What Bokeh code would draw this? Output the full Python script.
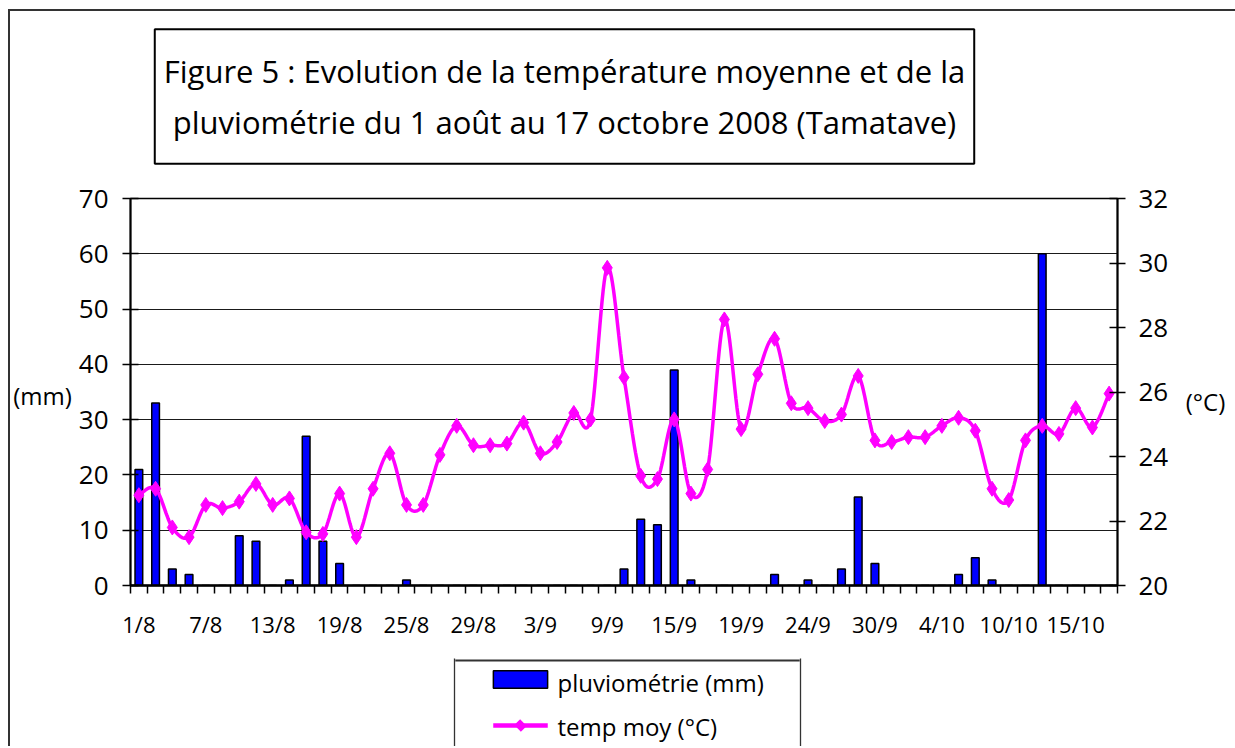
import numpy as np
from bokeh.plotting import figure
from bokeh.models import (Range1d, LinearAxis, FixedTicker, Label, ColumnDataSource)
from bokeh.embed import file_html
from bokeh.resources import INLINE

# ---------------- data ----------------
day_index = list(range(59))
tick_labels = ["1/8", "7/8", "13/8", "19/8", "25/8", "29/8", "3/9", "9/9",
               "15/9", "19/9", "24/9", "30/9", "4/10", "10/10", "15/10"]
rain_mm = [21, 33, 3, 2, 0, 0, 9, 8, 0, 1,
           27, 8, 4, 0, 0, 0, 1, 0, 0, 0,
           0, 0, 0, 0, 0, 0, 0, 0, 0, 3,
           12, 11, 39, 1, 0, 0, 0, 0, 2, 0,
           1, 0, 3, 16, 4, 0, 0, 0, 0, 2,
           5, 1, 0, 0, 60, 0, 0, 0, 0]
temp_c = [22.8, 23.0, 21.8, 21.5, 22.5, 22.4, 22.6, 23.15, 22.5, 22.7,
          21.65, 21.6, 22.85, 21.5, 23.0, 24.1, 22.5, 22.5, 24.05, 24.95,
          24.35, 24.35, 24.4, 25.05, 24.1, 24.45, 25.35, 25.15, 29.85, 26.45,
          23.4, 23.3, 25.15, 22.85, 23.6, 28.25, 24.85, 26.55, 27.65, 25.65,
          25.5, 25.1, 25.3, 26.5, 24.5, 24.45, 24.6, 24.6, 24.95, 25.2,
          24.8, 23.0, 22.65, 24.5, 24.95, 24.7, 25.5, 24.9, 25.95]
series_names = ["pluviométrie (mm)", "temp moy (°C)"]

FONT = "Open Sans"
BAR_COLOR = "#0000FF"
LINE_COLOR = "#FF00FF"
OX, OY = 10, 11   # canvas origin on the page (margin + border)

# smoothed curve through the data points (Excel-style smoothed line)
def smooth(xs, ys, steps=16):
    P = np.column_stack([xs, ys]).astype(float)
    n = len(P)
    out = [P[0]]
    t = np.linspace(0, 1, steps + 1)[1:, None]
    for i in range(n - 1):
        p0 = P[i - 1] if i > 0 else P[i]
        p1, p2 = P[i], P[i + 1]
        p3 = P[i + 2] if i + 2 < n else P[i + 1]
        b1 = p1 + (p2 - p0) / 6.0
        b2 = p2 - (p3 - p1) / 6.0
        seg = ((1 - t) ** 3) * p1 + 3 * ((1 - t) ** 2) * t * b1 + 3 * (1 - t) * t ** 2 * b2 + t ** 3 * p2
        out.extend(seg)
    out = np.array(out)
    return out[:, 0], out[:, 1]

sx, sy = smooth(day_index, temp_c)

p = figure(frame_width=987, frame_height=387,
           min_border_left=130 - OX, min_border_right=118,
           min_border_top=198 - OY, min_border_bottom=161,
           x_range=Range1d(-0.5, len(day_index) - 0.5), y_range=Range1d(0, 70),
           output_backend="svg", toolbar_location=None, tools="")
p.styles = {"margin-left": "8px", "margin-top": "9px",
            "border-left": "2px solid #333333", "border-top": "2px solid #333333"}
p.extra_y_ranges = {"temp": Range1d(20, 32)}
p.outline_line_color = "black"
p.outline_line_width = 1.5
p.background_fill_color = "white"
p.border_fill_color = "white"

# grid
p.xgrid.visible = False
p.ygrid.grid_line_color = "#1a1a1a"
p.ygrid.grid_line_width = 1

# left axis
ly = p.yaxis[0]
ly.ticker = FixedTicker(ticks=list(range(0, 71, 10)))
ly.axis_line_width = 2
ly.major_tick_in = 8
ly.major_tick_out = 8
ly.major_tick_line_width = 1.5
ly.major_label_standoff = 14
ly.major_label_text_font = FONT
ly.major_label_text_font_size = "26px"
ly.major_label_text_color = "black"

# right axis
ry = LinearAxis(y_range_name="temp", ticker=FixedTicker(ticks=list(range(20, 33, 2))))
ry.axis_line_width = 2
ry.major_tick_in = 8
ry.major_tick_out = 8
ry.major_tick_line_width = 1.5
ry.major_label_standoff = 13
ry.major_label_text_font = FONT
ry.major_label_text_font_size = "26px"
ry.major_label_text_color = "black"
p.add_layout(ry, "right")

# x axis
tick_pos = day_index[::4][:len(tick_labels)]
xa = p.xaxis[0]
xa.ticker = FixedTicker(ticks=tick_pos, minor_ticks=[i - 0.5 for i in range(len(day_index) + 1)])
xa.major_label_overrides = {t: lab for t, lab in zip(tick_pos, tick_labels)}
xa.major_tick_in = 0
xa.major_tick_out = 0
xa.minor_tick_in = 0
xa.minor_tick_out = 8
xa.minor_tick_line_color = "black"
xa.minor_tick_line_width = 1.5
xa.axis_line_width = 2.5
xa.major_label_standoff = 15
xa.major_label_text_font = FONT
xa.major_label_text_font_size = "22px"
xa.major_label_text_color = "black"

# glyphs
src_bar = ColumnDataSource(dict(x=day_index, top=rain_mm))
bars = p.vbar(x="x", top="top", width=0.46, source=src_bar,
              fill_color=BAR_COLOR, line_color="black", line_width=1.5)
line = p.line(sx, sy, y_range_name="temp", line_color=LINE_COLOR, line_width=3.5)
pts = p.scatter(day_index, temp_c, y_range_name="temp", marker="diamond", size=15,
                fill_color=LINE_COLOR, line_color=LINE_COLOR, line_width=1)


def canvas_label(panel, x, y, text, **kw):
    opts = dict(x=x - OX, y=y - OY, x_units="canvas", y_units="canvas", text=text,
                text_align="center", text_baseline="middle", text_font=FONT,
                text_color="black")
    opts.update(kw)
    p.add_layout(Label(**opts), panel)


# title (boxed, two lines)
canvas_label("above", 562, 94,
             "Figure 5 : Evolution de la température moyenne et de la\n"
             "pluviométrie du 1 août au 17 octobre 2008 (Tamatave)",
             text_line_height=1.2, text_font_size="31px",
             padding=(9, 21), border_line_color="black", border_line_width=2)

# axis unit labels
canvas_label("left", 40, 393, "(mm)", text_font_size="24px")
canvas_label("right", 1203, 399, "(°C)", text_font_size="24px")

# ---- legend (drawn from pieces placed in the side panels) ----
# frame of the legend box
canvas_label("below", 625, 658, " ", text_font_size="1.5px", padding=(172, 0),
             background_fill_color="#333333")
canvas_label("left", 452, 714, " ", text_font_size="5px", padding=(0, 55),
             background_fill_color="#333333")
canvas_label("right", 798, 714, " ", text_font_size="5px", padding=(0, 55),
             background_fill_color="#333333")
# bar swatch
canvas_label("below", 518, 677, " ", text_font_size="1px", padding=(27, 8),
             background_fill_color=BAR_COLOR, border_line_color="black",
             border_line_width=1.5)
# line + diamond swatch
canvas_label("below", 518, 723, " ", text_font_size="2px", padding=(27, 1),
             background_fill_color=LINE_COLOR)
canvas_label("above", 518, 723, " ", text_font_size="1px", padding=(4, 4),
             background_fill_color=LINE_COLOR, angle=45, angle_units="deg")
# legend texts
canvas_label("below", 555, 680, series_names[0], text_align="left", text_font_size="24px")
canvas_label("above", 555, 724, series_names[1], text_align="left", text_font_size="24px")

open("out.html", "w").write(file_html(p, INLINE))
